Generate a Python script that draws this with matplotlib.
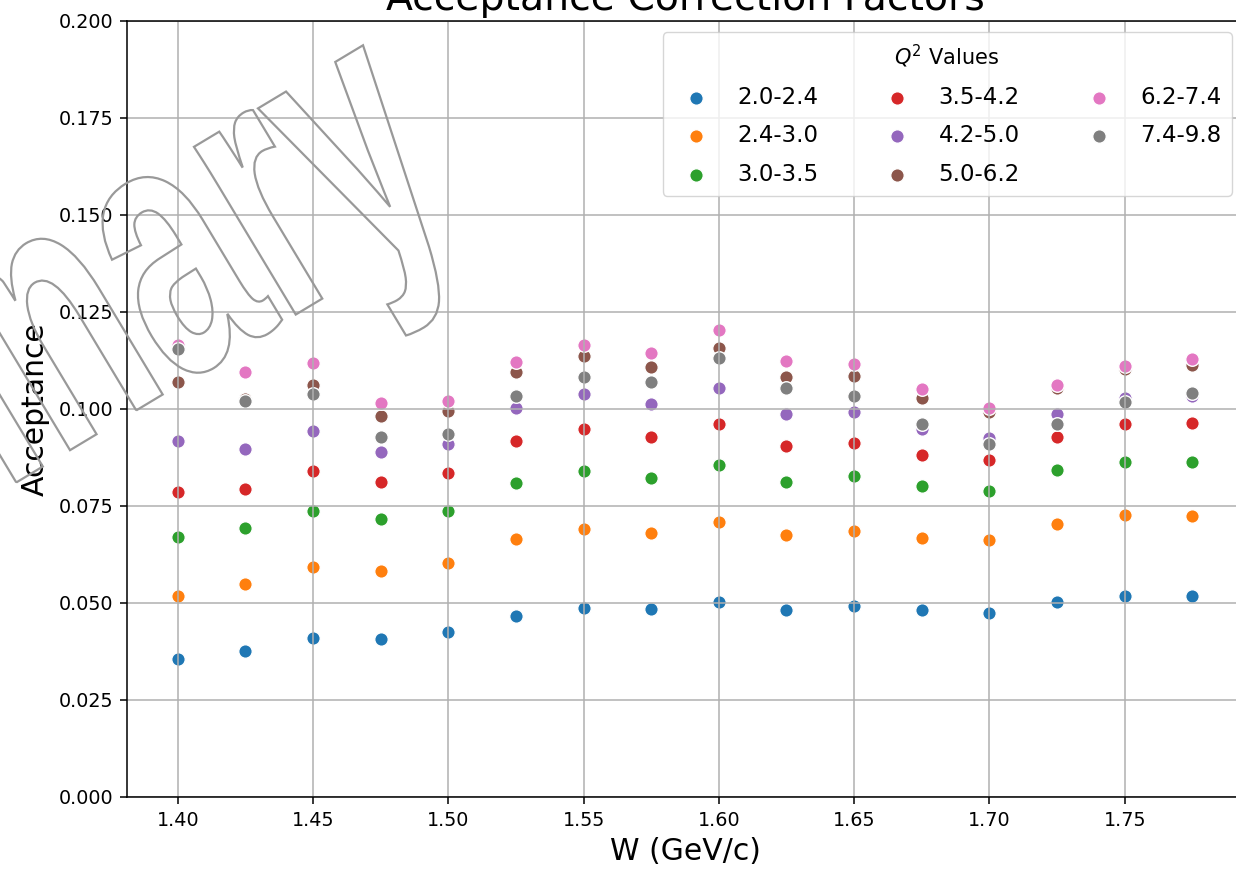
import numpy as np
import matplotlib
matplotlib.use('Agg')
import matplotlib.pyplot as plt
import matplotlib.transforms as mtransforms
from matplotlib.textpath import TextPath
from matplotlib.patches import PathPatch
from matplotlib.path import Path
from matplotlib.font_manager import FontProperties

# W bins (GeV/c)
w_bins = [1.400, 1.425, 1.450, 1.475, 1.500, 1.525, 1.550, 1.575,
          1.600, 1.625, 1.650, 1.675, 1.700, 1.725, 1.750, 1.775]

q2_labels = ['2.0-2.4', '2.4-3.0', '3.0-3.5', '3.5-4.2',
             '4.2-5.0', '5.0-6.2', '6.2-7.4', '7.4-9.8']

acc_q2_20_24 = [0.0355, 0.0377, 0.0410, 0.0406, 0.0425, 0.0466, 0.0488, 0.0485,
                0.0503, 0.0481, 0.0492, 0.0481, 0.0474, 0.0503, 0.0519, 0.0519]
acc_q2_24_30 = [0.0519, 0.0548, 0.0593, 0.0582, 0.0603, 0.0664, 0.0690, 0.0680,
                0.0708, 0.0675, 0.0686, 0.0668, 0.0663, 0.0704, 0.0727, 0.0724]
acc_q2_30_35 = [0.0671, 0.0693, 0.0738, 0.0716, 0.0738, 0.0809, 0.0841, 0.0823,
                0.0856, 0.0812, 0.0827, 0.0802, 0.0789, 0.0842, 0.0863, 0.0863]
acc_q2_35_42 = [0.0785, 0.0794, 0.0841, 0.0812, 0.0834, 0.0916, 0.0949, 0.0927,
                0.0960, 0.0905, 0.0912, 0.0882, 0.0868, 0.0928, 0.0960, 0.0964]
acc_q2_42_50 = [0.0916, 0.0897, 0.0942, 0.0890, 0.0910, 0.1002, 0.1038, 0.1012,
                0.1053, 0.0986, 0.0991, 0.0949, 0.0925, 0.0987, 0.1028, 0.1034]
acc_q2_50_62 = [0.1068, 0.1025, 0.1061, 0.0982, 0.0995, 0.1094, 0.1135, 0.1109,
                0.1158, 0.1083, 0.1085, 0.1028, 0.0991, 0.1055, 0.1102, 0.1112]
acc_q2_62_74 = [0.1165, 0.1095, 0.1117, 0.1014, 0.1021, 0.1120, 0.1165, 0.1144,
                0.1202, 0.1124, 0.1116, 0.1051, 0.1002, 0.1062, 0.1111, 0.1128]
acc_q2_74_98 = [0.1154, 0.1019, 0.1039, 0.0927, 0.0935, 0.1034, 0.1083, 0.1068,
                0.1131, 0.1053, 0.1034, 0.0960, 0.0909, 0.0961, 0.1017, 0.1042]

acceptance = [acc_q2_20_24, acc_q2_24_30, acc_q2_30_35, acc_q2_35_42,
              acc_q2_42_50, acc_q2_50_62, acc_q2_62_74, acc_q2_74_98]

W, H = 1236, 869
fig = plt.figure(figsize=(W / 100, H / 100), dpi=100)
ax = fig.add_axes([127 / W, 72 / H, 1116 / W, 776.3 / H])

for i, (lab, acc) in enumerate(zip(q2_labels, acceptance)):
    ax.scatter(w_bins, acc, s=95, color='C%d' % i, edgecolors='white',
               linewidths=1.0, label=lab)

ax.set_ylim(0, 0.2)
ax.set_yticks(np.arange(0, 0.2001, 0.025))
ax.set_xticks(np.arange(1.40, 1.7501, 0.05))
ax.yaxis.set_major_formatter(matplotlib.ticker.FormatStrFormatter('%.3f'))
ax.xaxis.set_major_formatter(matplotlib.ticker.FormatStrFormatter('%.2f'))
ax.tick_params(labelsize=13.8, length=5, width=1.1, pad=5)
for sp in ax.spines.values():
    sp.set_linewidth(1.1)
ax.grid(True, color='#b0b0b0', linewidth=1.1)

ax.set_title('Acceptance Correction Factors', fontsize=28.4, pad=8)
ax.set_xlabel('W (GeV/c)', fontsize=21.5, labelpad=5)
ax.set_ylabel('Acceptance', fontsize=21.5, labelpad=6)

leg = ax.legend(title='$Q^2$ Values', ncol=3, loc='upper right',
                fontsize=16.5, title_fontsize=15, borderaxespad=0.5,
                labelspacing=0.66, columnspacing=2.45, borderpad=0.45)
leg._legend_box.sep = 12.0  # points between title and entries


# outlined "Preliminary" stamp
def glyph_left(text, size, fp):
    """left ink edge of the last glyph of text"""
    before = TextPath((0, 0), text[:-1], size=size, prop=fp)
    full = TextPath((0, 0), text, size=size, prop=fp)
    v = full.vertices[len(before.vertices):]
    c = full.codes[len(before.vertices):]
    return v[c != Path.CLOSEPOLY, 0].min()


fp = FontProperties(family='Liberation Sans', weight='bold')
r_h = TextPath((0, 0), 'r', size=1, prop=fp).get_extents().height
size = 200 / r_h
r_left = glyph_left('Preliminar', size, fp)
y_left = glyph_left('Preliminary', size, fp)
sx = 0.9 * 83 / (y_left - r_left)

word_path = TextPath((0, 0), 'Preliminary', size=size, prop=fp)
stamp_tr = (mtransforms.Affine2D().scale(sx, 1.0)
            .translate(-r_left * sx, 0)
            .rotate_deg(31)
            .translate(295, H - 315))
stamp = PathPatch(word_path, transform=stamp_tr, facecolor='none',
                  edgecolor='#999999', linewidth=1.6, zorder=5)
fig.add_artist(stamp)

fig.savefig('out.png', dpi=100)
